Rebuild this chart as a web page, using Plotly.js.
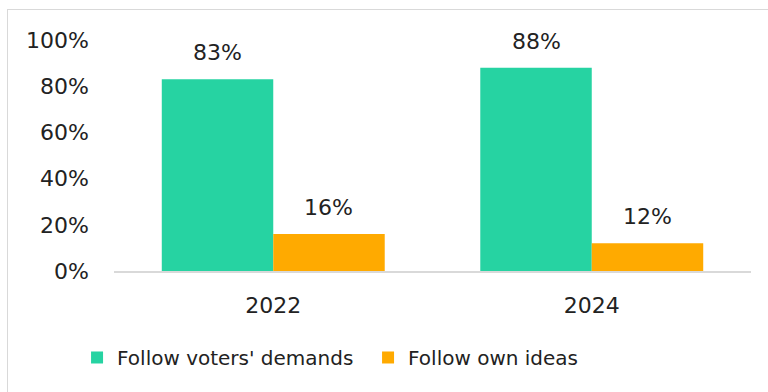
<!DOCTYPE html>
<html>
<head>
<meta charset="utf-8">
<script src="https://cdn.plot.ly/plotly-3.0.1.min.js"></script>
<style>
html,body{margin:0;padding:0;background:#fff;overflow:hidden;}
#wrap{position:relative;width:768px;height:392px;}
#frame{position:absolute;left:7px;top:9px;width:800px;height:420px;border:1px solid #d9d9d9;box-sizing:border-box;pointer-events:none;}
#chart{position:absolute;left:0;top:0;width:768px;height:392px;}
</style>
</head>
<body>
<div id="wrap"><div id="chart"></div><div id="frame"></div></div>
<script>
const years = ['2022', '2024'];
const seriesNames = ["Follow voters' demands", 'Follow own ideas'];
const voters = [83, 88];
const own = [16, 12];
const colors = ['#26D3A2', '#FFAA00'];
const yTicks = [0, 20, 40, 60, 80, 100];
const yTickText = yTicks.map(v => v + '%');

const FONT = 'DejaVu Sans, sans-serif';
const NUM = 22;
const values = [voters, own];

const traces = values.map((vals, i) => ({
  type: 'bar',
  name: seriesNames[i],
  x: years,
  y: vals,
  marker: {color: colors[i]},
  hoverinfo: 'skip'
}));

const annotations = [];
values.forEach((vals, i) => {
  vals.forEach((v, j) => {
    annotations.push({
      x: j, y: v, xref: 'x', yref: 'y',
      text: v + '%', showarrow: false,
      xshift: i === 0 ? -55.5 : 55.5,
      yanchor: 'bottom', yshift: 12,
      font: {family: FONT, size: NUM, color: '#222'}
    });
  });
});

const layout = {
  width: 768, height: 392,
  margin: {l: 114, r: 17, t: 40, b: 121},
  paper_bgcolor: 'rgba(0,0,0,0)', plot_bgcolor: 'rgba(0,0,0,0)',
  barmode: 'group', bargap: 0.3, bargroupgap: 0,
  font: {family: FONT, size: NUM, color: '#222'},
  xaxis: {
    type: 'category', range: [-0.5, 1.5], showgrid: false, showline: true, linecolor: '#d9d9d9', linewidth: 2,
    ticks: '', ticklabelstandoff: 14, tickfont: {family: FONT, size: NUM, color: '#222'}
  },
  yaxis: {
    range: [0, 100], tickvals: yTicks, ticktext: yTickText, showgrid: false, zeroline: false,
    showline: false, ticks: '', ticklabelstandoff: 24, tickfont: {family: FONT, size: NUM, color: '#222'}
  },
  showlegend: true,
  legend: {
    orientation: 'h', x: -0.058, xanchor: 'left', y: -0.29, yanchor: 'top',
    font: {family: FONT, size: 20, color: '#222'}, itemwidth: 30, tracegroupgap: 0,
    entrywidth: 246, entrywidthmode: 'pixels',
    bgcolor: 'rgba(0,0,0,0)'
  },
  annotations: annotations
};

Plotly.newPlot('chart', traces, layout, {staticPlot: true, displayModeBar: false});
</script>
</body>
</html>
